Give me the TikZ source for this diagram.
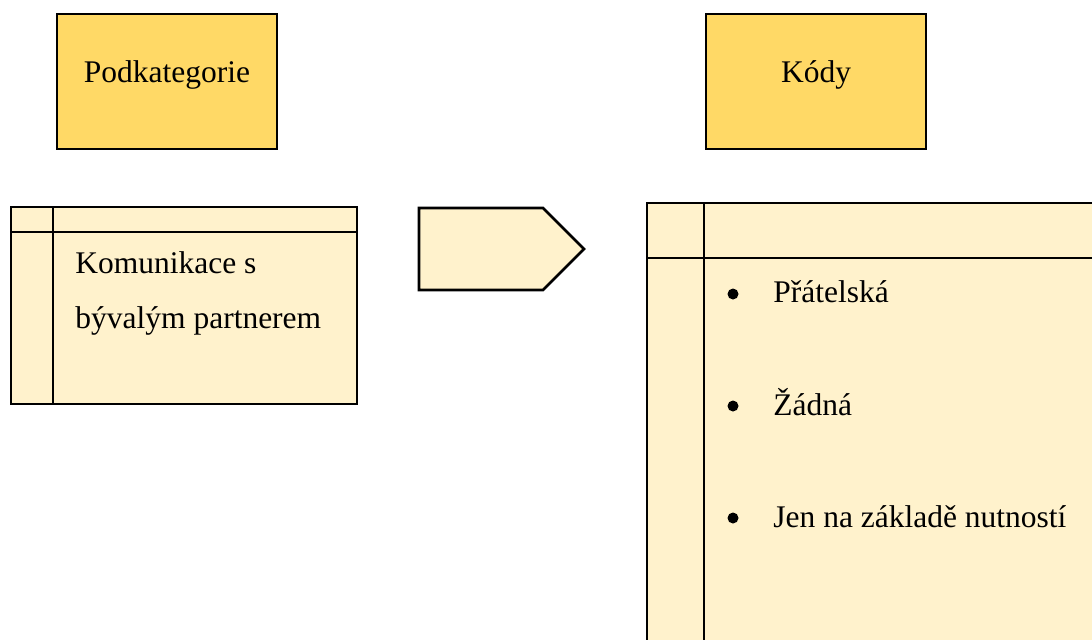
\documentclass[tikz,border=0pt]{standalone}
\usepackage{fontspec}
\setmainfont{Liberation Serif}
\usepackage{tikz}
\usetikzlibrary{calc}

\definecolor{gold}{HTML}{FFD966}
\definecolor{cream}{HTML}{FFF2CC}

\tikzset{
	titlebox/.style={draw, line width=1.4pt, fill=gold, minimum width=110pt, minimum height=67.5pt},
	titletext/.style={font=\fontsize{15.75}{19}\selectfont},
	tablebox/.style={draw, line width=1.4pt, fill=cream},
	tabletext/.style={anchor=base west, inner sep=0pt, font=\fontsize{15.75}{19}\selectfont},
	dot/.style={circle, fill=black, inner sep=0pt, minimum size=5.5pt}
}

\begin{document}
\begin{tikzpicture}[x=0.5pt, y=-0.5pt]
		\useasboundingbox (0,0) rectangle (1092,639);
		\clip (0,0) rectangle (1092,639);

		\node[titlebox] (sub) at (167,81.5) {};
		\node[titletext] (subtext) at (167,75) {Podkategorie};
		\node[titlebox] (codes) at (816,81.5) {};
		\node[titletext] (codestext) at (816,75) {Kódy};

		% left table
		\draw[tablebox] (11,207) coordinate (L1) rectangle (357,404) coordinate (L2);
		\draw[line width=1.4pt] (53,207) -- (53,404);
		\draw[line width=1.4pt] (11,232) -- (357,232);
		\node[tabletext] (k1) at (75,273) {Komunikace s};
		\node[tabletext] (k2) at (75,328) {bývalým partnerem};

		% arrow
		\draw[tablebox] (419,208) -- (543,208) -- (584,249) -- (543,290) -- (419,290) -- cycle;

		% right table
		\draw[tablebox] (647,203) coordinate (R1) rectangle (1110,660) coordinate (R2);
		\draw[line width=1.4pt] (704,203) -- (704,660);
		\draw[line width=1.4pt] (647,258) -- (1110,258);

		\node[dot] (d1) at (733,294) {};
		\node[dot] (d2) at (733,406) {};
		\node[dot] (d3) at (733,518) {};
		\node[tabletext] (c1) at (773,302) {Přátelská};
		\node[tabletext] (c2) at (773,415) {Žádná};
		\node[tabletext] (c3) at (773,527) {Jen na základě nutností};
	\end{tikzpicture}
\end{document}
